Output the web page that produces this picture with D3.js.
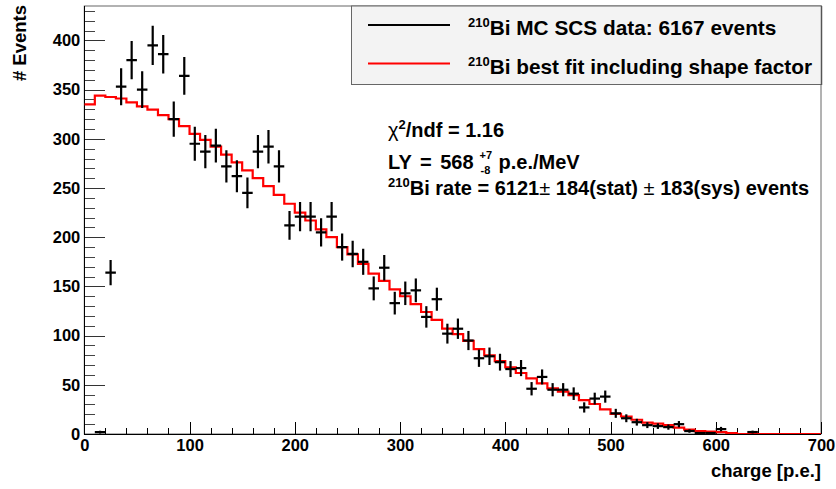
<!DOCTYPE html>
<html>
<head>
<meta charset="utf-8">
<script src="https://cdn.jsdelivr.net/npm/d3@7/dist/d3.min.js"></script>
<style>
  html, body { margin: 0; padding: 0; background: #fff; }
  svg { display: block; }
  text { font-family: "Liberation Sans", Arial, Helvetica, sans-serif; font-weight: bold; fill: #000; }
</style>
</head>
<body>
<svg id="chart" width="836" height="489"></svg>
<script>
// ---- Data ----
// MC data histogram: bin centres (p.e.) and counts (bin width 10 p.e.)
const binCenters = [5,15,25,35,45,55,65,75,85,95,105,115,125,135,145,155,165,175,185,195,
  205,215,225,235,245,255,265,275,285,295,305,315,325,335,345,355,365,375,385,395,
  405,415,425,435,445,455,465,475,485,495,505,515,525,535,545,555,565,575,585,595,
  605,615,625,635,645,655,665,675,685,695];
const dataCounts = [0,2,164,353,380,350,395,386,320,364,295,287,293,272,262,245,287,292,272,212,
  221,221,205,221,190,183,175,148,169,133,143,146,119,137,102,107,95,77,79,73,
  66,67,46,58,45,45,41,27,36,38,21,16,12,9,8,7,10,3,1,1,
  5,0,0,2,0,0,0,0,0,0];
// Best fit histogram: lower bin edges and contents
const fitEdges = [0,10,20,30,40,50,60,70,80,90,100,110,120,130,140,150,160,170,180,190,
  200,210,220,230,240,250,260,270,280,290,300,310,320,330,340,350,360,370,380,390,
  400,410,420,430,440,450,460,470,480,490,500,510,520,530,540,550,560,570,580,590,
  600,610,620,630,640,650,660,670,680,690];
const fitCounts = [335,344,342.5,341,337,333,329.6,324,320,313,305,299,292,284,276,268,260,252,243,234,
  225,217,208,200,190,182.5,173,163,155.6,147,140,132,124,116,107,101.5,94.7,86.3,80,74,
  67.7,62,56.5,51.4,46.4,43,39.6,34.5,30.5,25,20.5,17.8,14.5,11.5,10.5,9,6.5,4.5,3,2.5,
  2,0.8,0,0,0,0,0,0,0,0];
const binWidth = 10;
const xTickValues = [0,100,200,300,400,500,600,700];
const yTickValues = [0,50,100,150,200,250,300,350,400];
const xDomain = [0, 700];
const yDomain = [0, 435];

// ---- Layout ----
const svg = d3.select("#chart");
const frame = { left: 84.3, right: 821, top: 6, bottom: 434 };
const x = d3.scaleLinear().domain(xDomain).range([frame.left, frame.right]);
const y = d3.scaleLinear().domain(yDomain).range([frame.bottom, frame.top]);
const FONT = '"Liberation Sans", Arial, sans-serif';

svg.append("rect").attr("width", 836).attr("height", 489).attr("fill", "#fff");

// Frame
svg.append("rect")
  .attr("x", frame.left).attr("y", frame.top)
  .attr("width", frame.right - frame.left).attr("height", frame.bottom - frame.top)
  .attr("fill", "none").attr("stroke", "#666").attr("stroke-width", 1);

// Axes ticks (ROOT style, ticks inside)
const axG = svg.append("g").attr("stroke", "#000").attr("stroke-width", 1).attr("shape-rendering", "crispEdges");
const yMinor = d3.range(yDomain[0], yDomain[1] + 0.001, 10);
yMinor.forEach(v => {
  const major = v % 50 === 0;
  axG.append("line")
    .attr("x1", frame.left).attr("x2", frame.left + (major ? 21 : 11))
    .attr("y1", Math.round(y(v)) + 0.5).attr("y2", Math.round(y(v)) + 0.5)
    .attr("stroke", major ? "#333" : "#444");
});
const xMinor = d3.range(xDomain[0], xDomain[1] + 0.001, 20);
xMinor.forEach(v => {
  const major = v % 100 === 0;
  axG.append("line")
    .attr("x1", Math.round(x(v)) + 0.5).attr("x2", Math.round(x(v)) + 0.5)
    .attr("y1", frame.bottom).attr("y2", frame.bottom - (major ? 12.5 : 6.5));
});
axG.append("line").attr("x1", frame.left).attr("x2", frame.right)
  .attr("y1", frame.bottom + 0.5).attr("y2", frame.bottom + 0.5).attr("stroke-width", 1.5);
axG.append("line").attr("x1", frame.left).attr("x2", frame.left)
  .attr("y1", frame.top).attr("y2", frame.bottom).attr("stroke-width", 1.5);

// Tick labels via d3 axes
const yAxis = d3.axisLeft(y).tickValues(yTickValues).tickSize(0).tickPadding(0).tickFormat(d3.format("d"));
const gy = svg.append("g").attr("transform", `translate(${frame.left - 4},0)`).call(yAxis);
gy.select(".domain").remove();
gy.selectAll("text").style("font-size", "16.5px").style("font-weight", "bold")
  .style("font-family", FONT).attr("fill", "#000");

const xAxis = d3.axisBottom(x).tickValues(xTickValues).tickSize(0).tickPadding(0).tickFormat(d3.format("d"));
const gx = svg.append("g").attr("transform", `translate(0,${frame.bottom + 5})`).call(xAxis);
gx.select(".domain").remove();
gx.selectAll("text").style("font-size", "16.5px").style("font-weight", "bold")
  .style("font-family", FONT).attr("fill", "#000");

// Axis titles
svg.append("text").attr("x", frame.right).attr("y", 477)
  .attr("text-anchor", "end").style("font-size", "18.5px").text("charge [p.e.]");
svg.append("text").attr("transform", "translate(26,5) rotate(-90)")
  .attr("text-anchor", "end").style("font-size", "18.5px").text("# Events");

// Clip
svg.append("clipPath").attr("id", "clip").append("rect")
  .attr("x", frame.left).attr("y", frame.top)
  .attr("width", frame.right - frame.left).attr("height", frame.bottom - frame.top);

// Fit histogram (step)
const fitPts = fitEdges.map((e, i) => [e, fitCounts[i]]);
fitPts.push([fitEdges[fitEdges.length - 1] + binWidth, fitCounts[fitCounts.length - 1]]);
const stepLine = d3.line().x(d => x(d[0])).y(d => y(d[1])).curve(d3.curveStepAfter);
svg.append("path").attr("clip-path", "url(#clip)")
  .attr("d", stepLine(fitPts))
  .attr("fill", "none").attr("stroke", "#ff0000").attr("stroke-width", 2.2);

// Data points with error bars
const pts = binCenters.map((c, i) => ({ c, v: dataCounts[i] })).filter(d => d.v > 0);
const gd = svg.append("g").attr("stroke", "#000").attr("stroke-width", 2.2).attr("clip-path", "url(#clip)");
gd.selectAll("line.h").data(pts).enter().append("line").attr("class", "h")
  .attr("x1", d => x(d.c - binWidth / 2)).attr("x2", d => x(d.c + binWidth / 2))
  .attr("y1", d => y(d.v)).attr("y2", d => y(d.v));
gd.selectAll("line.v").data(pts).enter().append("line").attr("class", "v")
  .attr("x1", d => x(d.c)).attr("x2", d => x(d.c))
  .attr("y1", d => y(d.v - Math.sqrt(d.v))).attr("y2", d => y(d.v + Math.sqrt(d.v)));

// Legend
const lg = svg.append("g");
lg.append("rect").attr("x", 351.5).attr("y", 6).attr("width", 470).attr("height", 78.5)
  .attr("fill", "#f3f3f3").attr("stroke", "#666").attr("stroke-width", 1);
lg.append("line").attr("x1", 821.5).attr("x2", 821.5).attr("y1", 6).attr("y2", 85)
  .attr("stroke", "#555").attr("stroke-width", 1.5);
lg.append("line").attr("x1", 368).attr("x2", 450).attr("y1", 25).attr("y2", 25)
  .attr("stroke", "#000").attr("stroke-width", 2);
lg.append("line").attr("x1", 368).attr("x2", 450).attr("y1", 63.5).attr("y2", 63.5)
  .attr("stroke", "#ff0000").attr("stroke-width", 2);

const BIG = "20px", SUP = "13px";
function supText(g, xx, yy, sup, main, size) {
  const t = g.append("text").attr("x", xx).attr("y", yy).style("font-size", size || BIG);
  t.append("tspan").style("font-size", SUP).attr("dy", -8).text(sup);
  t.append("tspan").attr("dy", 8).text(main);
  return t;
}
supText(lg, 468, 35, "210", "Bi MC SCS data: 6167 events", "20.8px");
supText(lg, 468, 74, "210", "Bi best fit including shape factor", "20.8px");

// Annotations
const chi = svg.append("text").attr("x", 388).attr("y", 137).style("font-size", BIG);
chi.append("tspan").style("font-weight", "normal").text("χ");
chi.append("tspan").style("font-size", SUP).attr("dy", -8).text("2");
chi.append("tspan").attr("dy", 8).text("/ndf = 1.16");

const ly = svg.append("text").attr("x", 388).attr("y", 169).style("font-size", BIG)
  .style("word-spacing", "3px").text("LY = 568");
const lyW = ly.node().getComputedTextLength();
const ux = 388 + lyW + 6;
svg.append("text").attr("x", ux).attr("y", 159).style("font-size", "11px").text("+7");
svg.append("text").attr("x", ux + 1).attr("y", 174).style("font-size", "11px").text("-8");
svg.append("text").attr("x", ux + 19).attr("y", 169).style("font-size", BIG).text("p.e./MeV");

const br = svg.append("text").attr("x", 388).attr("y", 195).style("font-size", BIG);
br.append("tspan").style("font-size", SUP).attr("dy", -8).text("210");
br.append("tspan").attr("dy", 8).text("Bi rate = 6121");
br.append("tspan").style("font-weight", "normal").text("±");
br.append("tspan").text(" 184(stat) ");
br.append("tspan").style("font-weight", "normal").text("±");
br.append("tspan").text(" 183(sys) events");
</script>
</body>
</html>
